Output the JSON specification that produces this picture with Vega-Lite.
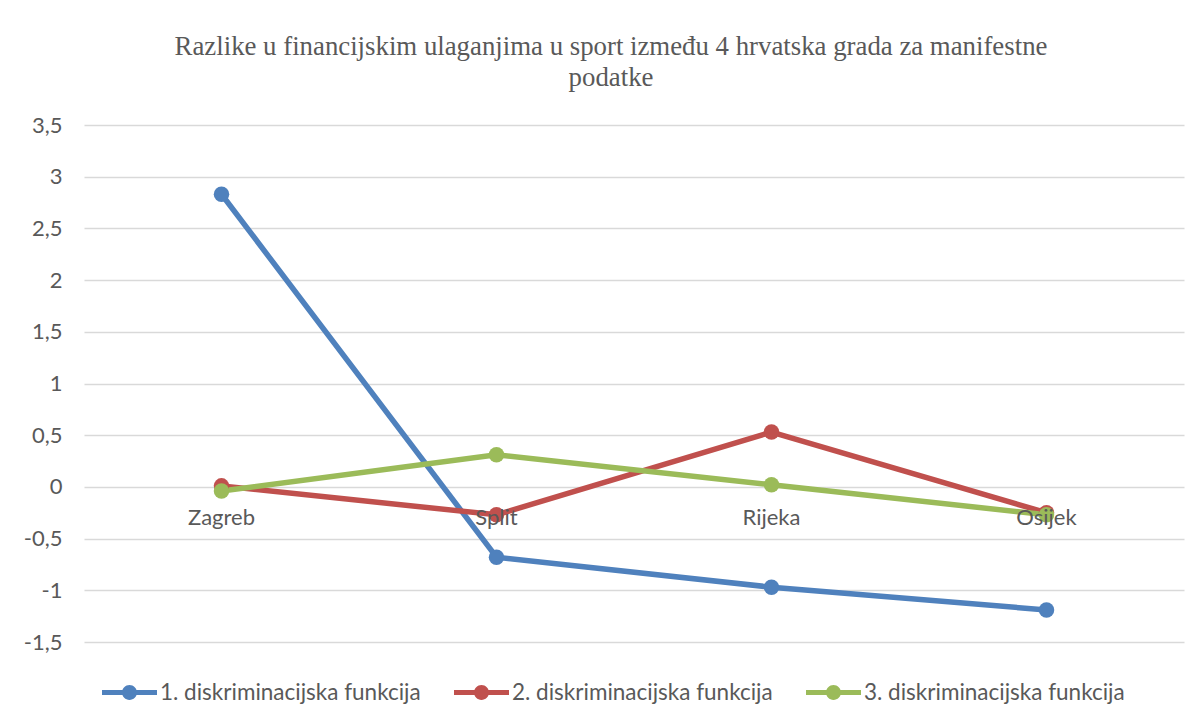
{
  "$schema": "https://vega.github.io/schema/vega-lite/v6.json",
  "width": 1100,
  "height": 517,
  "autosize": {"type": "none"},
  "padding": {"left": 84, "top": 125, "right": 16, "bottom": 84},
  "background": "white",
  "config": {"view": {"stroke": null}},
  "title": {
    "text": ["Razlike u financijskim ulaganjima u sport između 4 hrvatska grada za manifestne", "podatke"],
    "font": "Liberation Serif",
    "fontSize": 26.8,
    "fontWeight": "normal",
    "color": "#595959",
    "lineHeight": 31,
    "anchor": "middle",
    "dx": -23,
    "offset": 22
  },
  "datasets": {
    "series": [
      {"funkcija": "1. diskriminacijska funkcija", "grad": "Zagreb", "vrijednost": 2.83},
      {"funkcija": "1. diskriminacijska funkcija", "grad": "Split", "vrijednost": -0.68},
      {"funkcija": "1. diskriminacijska funkcija", "grad": "Rijeka", "vrijednost": -0.97},
      {"funkcija": "1. diskriminacijska funkcija", "grad": "Osijek", "vrijednost": -1.19},
      {"funkcija": "2. diskriminacijska funkcija", "grad": "Zagreb", "vrijednost": 0.01},
      {"funkcija": "2. diskriminacijska funkcija", "grad": "Split", "vrijednost": -0.27},
      {"funkcija": "2. diskriminacijska funkcija", "grad": "Rijeka", "vrijednost": 0.53},
      {"funkcija": "2. diskriminacijska funkcija", "grad": "Osijek", "vrijednost": -0.25},
      {"funkcija": "3. diskriminacijska funkcija", "grad": "Zagreb", "vrijednost": -0.04},
      {"funkcija": "3. diskriminacijska funkcija", "grad": "Split", "vrijednost": 0.31},
      {"funkcija": "3. diskriminacijska funkcija", "grad": "Rijeka", "vrijednost": 0.02},
      {"funkcija": "3. diskriminacijska funkcija", "grad": "Osijek", "vrijednost": -0.27}
    ],
    "gradovi": [
      {"grad": "Zagreb"},
      {"grad": "Split"},
      {"grad": "Rijeka"},
      {"grad": "Osijek"}
    ]
  },
  "layer": [
    {
      "data": {"name": "series"},
      "mark": {
        "type": "line",
        "strokeWidth": 5.5,
        "point": {"size": 240, "filled": true, "opacity": 1}
      },
      "encoding": {
        "x": {
          "field": "grad",
          "type": "nominal",
          "sort": ["Zagreb", "Split", "Rijeka", "Osijek"],
          "scale": {"type": "point", "padding": 0.5},
          "axis": null
        },
        "y": {
          "field": "vrijednost",
          "type": "quantitative",
          "scale": {"domain": [-1.5, 3.5], "nice": false, "zero": false},
          "axis": {
            "values": [-1.5, -1, -0.5, 0, 0.5, 1, 1.5, 2, 2.5, 3, 3.5],
            "title": null,
            "domain": false,
            "ticks": false,
            "grid": true,
            "gridColor": "#d9d9d9",
            "gridWidth": 1.5,
            "labelFont": "Lato",
            "labelFontSize": 22,
            "labelColor": "#595959",
            "labelPadding": 22,
            "labelExpr": "replace(toString(datum.value), '.', ',')"
          }
        },
        "color": {
          "field": "funkcija",
          "type": "nominal",
          "scale": {
            "domain": ["1. diskriminacijska funkcija", "2. diskriminacijska funkcija", "3. diskriminacijska funkcija"],
            "range": ["#4f81bd", "#c0504d", "#9bbb59"]
          },
          "legend": {
            "orient": "none",
            "legendX": 18,
            "legendY": 540,
            "direction": "horizontal",
            "title": null,
            "padding": 0,
            "symbolType": "M-1,-0.09H1V0.09H-1Z M-0.27,0A0.27,0.27,0,1,1,0.27,0A0.27,0.27,0,1,1,-0.27,0Z",
            "symbolSize": 3025,
            "symbolStrokeWidth": 0,
            "symbolOpacity": 1,
            "labelFont": "Lato",
            "labelFontSize": 22.5,
            "labelColor": "#595959",
            "labelOffset": 3,
            "columnPadding": 33,
            "labelLimit": 400,
            "encode": {
              "symbols": {"update": {"fill": {"scale": "color", "field": "value"}, "opacity": {"value": 1}}}
            }
          }
        }
      }
    },
    {
      "data": {"name": "gradovi"},
      "mark": {
        "type": "text",
        "dy": 31,
        "font": "Lato",
        "fontSize": 22,
        "color": "#595959",
        "baseline": "middle",
        "align": "center"
      },
      "encoding": {
        "x": {"field": "grad", "type": "nominal", "sort": ["Zagreb", "Split", "Rijeka", "Osijek"]},
        "y": {"datum": 0},
        "text": {"field": "grad"}
      }
    }
  ]
}
